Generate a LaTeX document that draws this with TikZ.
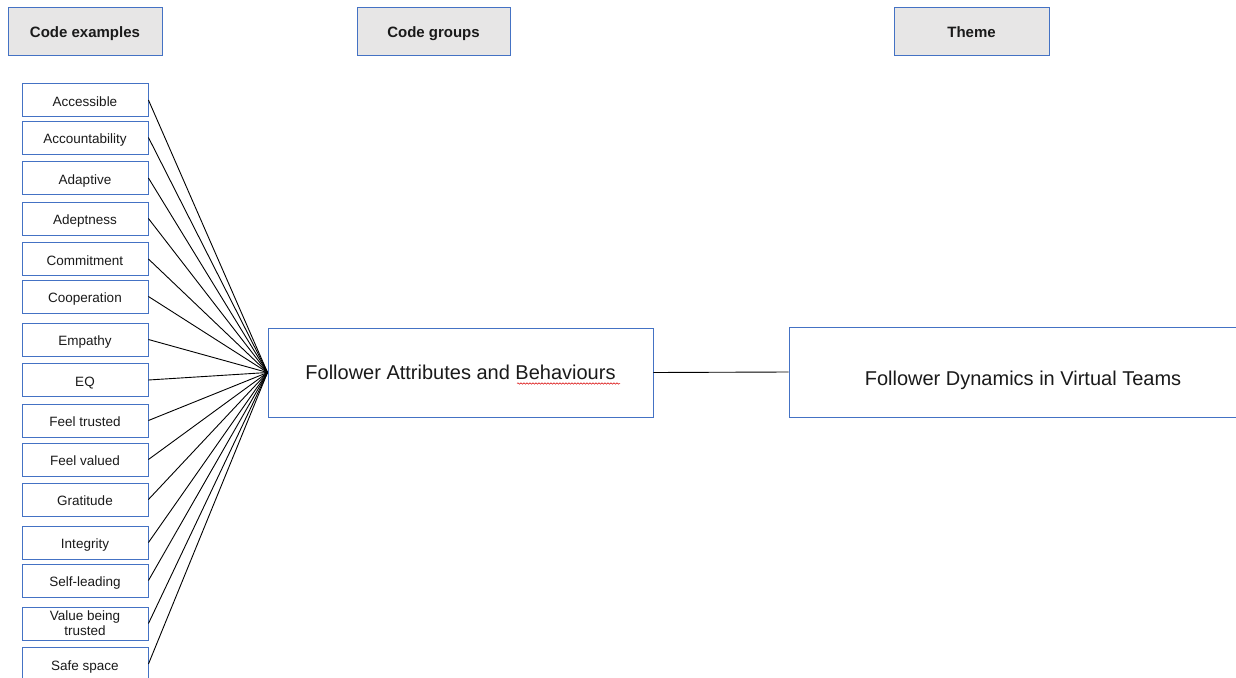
\documentclass[tikz,border=0pt]{standalone}
\usepackage{fontspec}
\setmainfont{Liberation Sans}
\usetikzlibrary{decorations.pathmorphing}
\definecolor{boxblue}{RGB}{68,114,196}
\definecolor{headgray}{RGB}{231,230,230}
\definecolor{inkblack}{RGB}{26,26,26}
\begin{document}
\begin{tikzpicture}[x=1pt,y=-1pt,
  header/.style={draw=boxblue, line width=0.9pt, fill=headgray, minimum height=48pt,
    inner sep=0pt, text height=13pt, text depth=0pt, text=inkblack,
    font=\fontsize{15}{18}\selectfont\bfseries},
  codebase/.style={draw=boxblue, line width=0.9pt, fill=white, minimum width=126pt,
    minimum height=33pt, inner sep=0pt, align=center, text=inkblack,
    font=\fontsize{13.5}{16}\selectfont},
  codebox/.style={codebase, text height=12.6pt, text depth=0pt},
  bigbox/.style={draw=boxblue, line width=0.9pt, fill=white, inner sep=0pt,
    text=inkblack, font=\fontsize{20}{24}\selectfont},
  link/.style={draw=black, line width=0.9pt}]
\useasboundingbox (0,0) rectangle (1236,677);
\clip (0,0) rectangle (1236,677);

% column headers
\node[header, minimum width=154pt] (hcode)  at (85,31)    {Code examples};
\node[header, minimum width=153pt] (hgroup) at (433.5,31) {Code groups};
\node[header, minimum width=155pt] (htheme) at (971.5,31) {Theme};

% code group and theme
\node[bigbox, minimum width=385pt, minimum height=89pt] (grp) at (460.5,372.5)
  {Follower Attributes and Behaviours};
\node[bigbox, minimum width=468pt, minimum height=90pt, text height=26pt, text depth=0pt]
  (theme) at (1023,372) {Follower Dynamics in Virtual Teams};
\draw[red!85!black, line width=0.5pt, decorate,
  decoration={snake, amplitude=0.7pt, segment length=3pt}] (517,383.5) -- (620,383.5);

% code examples
\foreach \name/\yy/\label in {
  c1/100/Accessible,
  c2/137.5/Accountability,
  c3/178/Adaptive,
  c4/218.5/Adeptness,
  c5/259/Commitment,
  c6/296.5/Cooperation,
  c7/339.5/Empathy,
  c8/380/EQ,
  c9/420.5/Feel trusted,
  c10/459.5/Feel valued,
  c11/499.5/Gratitude,
  c12/542.5/Integrity,
  c13/580.5/Self-leading,
  c15/664/Safe space}{
  \node[codebox] (\name) at (85,\yy) {\label};
  \draw[link] (\name.east) -- (grp.west);
}
\node[codebase] (c14) at (85,623.5) {Value being\\[-1pt]trusted};
\draw[link] (c14.east) -- (grp.west);

% group to theme
\draw[link] (grp.east) -- (theme.west);
\end{tikzpicture}
\end{document}
